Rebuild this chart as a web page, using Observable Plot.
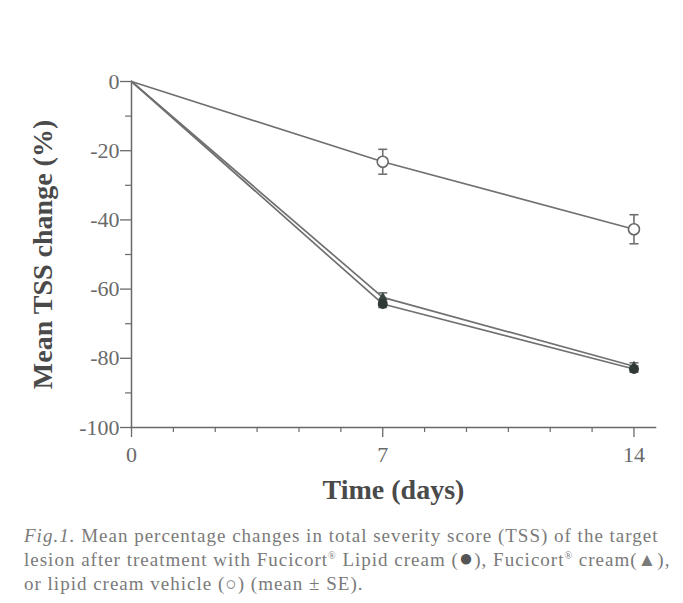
<!DOCTYPE html>
<html><head><meta charset="utf-8">
<script src="https://cdn.jsdelivr.net/npm/d3@7"></script>
<script src="https://cdn.jsdelivr.net/npm/@observablehq/plot@0.6"></script>
<style>
body{margin:0;background:#fff;}
svg{display:block;}
#cap{font-family:"Liberation Serif","Times New Roman",serif;font-size:19px;letter-spacing:1px;line-height:24px;color:#7a7a7a;margin-left:24px;margin-top:9px;white-space:nowrap;}
#cap sup{font-size:10px;vertical-align:7px;line-height:0;}
#cap .sym{font-size:24px;line-height:0;color:#555;}
</style></head><body>
<div id="chart"></div>
<div id="cap">
<div><i>Fig.1.</i> Mean percentage changes in total severity score (TSS) of the target</div>
<div>lesion after treatment with Fucicort<sup>®</sup> Lipid cream (<span class="sym">●</span>), Fucicort<sup>®</sup> cream(▲),</div>
<div>or lipid cream vehicle (○) (mean ± SE).</div>
</div>
<script>
const days = [0, 7, 14];
const lipidMean = [0, -64.3, -83.1];
const lipidSE = [0, 1.0, 0.9];
const creamMean = [0, -62.4, -82.3];
const creamSE = [0, 1.3, 1.0];
const vehicleMean = [0, -23.2, -42.7];
const vehicleSE = [0, 3.6, 4.2];
const yMajorTicks = [0, -20, -40, -60, -80, -100];
const yMinorTicks = [-10, -30, -50, -70, -90];
const xMajorTicks = [0, 7, 14];
const xMinorTicks = [7/6, 14/6, 21/6, 28/6, 35/6, 49/6, 56/6, 63/6, 70/6, 77/6];

const seriesDefs = [
  {name: "vehicle", mean: vehicleMean, se: vehicleSE},
  {name: "cream", mean: creamMean, se: creamSE},
  {name: "lipid", mean: lipidMean, se: lipidSE}
];
const rows = seriesDefs.flatMap(s => days.map((d, i) => ({
  series: s.name, day: d, mean: s.mean[i], lo: s.mean[i] - s.se[i], hi: s.mean[i] + s.se[i], se: s.se[i]
})));
const marked = rows.filter(r => r.day > 0);

const hline = {draw(ctx, size){ const r = Math.sqrt(size / Math.PI); ctx.moveTo(-r, 0); ctx.lineTo(r, 0); }};

const axisColor = "#6a6a6a";
const lineColor = "#707070";

const chart = Plot.plot({
  width: 683, height: 515,
  marginLeft: 131, marginRight: 28, marginTop: 81, marginBottom: 88,
  style: {fontFamily: "Liberation Serif, Times New Roman, serif", background: "#fff"},
  x: {domain: [0, 14.6]},
  y: {domain: [-100, 0]},
  marks: [
    Plot.axisY(yMajorTicks, {tickSize: 11, tickPadding: 1, fontSize: 22, color: axisColor, tickFormat: d => String(d), label: null, strokeWidth: 1.3}),
    Plot.axisY(yMinorTicks, {tickSize: 6, tickFormat: () => "", color: axisColor, label: null, strokeWidth: 1.2}),
    Plot.axisX(xMajorTicks, {tickSize: 10, tickPadding: 9, fontSize: 22, color: axisColor, label: null, strokeWidth: 1.3}),
    Plot.axisX(xMinorTicks, {tickSize: 5, tickFormat: () => "", color: axisColor, label: null, strokeWidth: 1.2}),
    Plot.frame({anchor: "left", stroke: axisColor, strokeWidth: 1.5}),
    Plot.frame({anchor: "bottom", stroke: axisColor, strokeWidth: 1.5}),
    Plot.line(rows, {x: "day", y: "mean", z: "series", stroke: lineColor, strokeWidth: 1.7}),
    Plot.ruleX(marked, {x: "day", y1: "lo", y2: "hi", stroke: lineColor, strokeWidth: 1.6}),
    Plot.dot(marked, {x: "day", y: "lo", symbol: hline, r: 4.5, fill: "none", stroke: lineColor, strokeWidth: 1.6}),
    Plot.dot(marked, {x: "day", y: "hi", symbol: hline, r: 4.5, fill: "none", stroke: lineColor, strokeWidth: 1.6}),
    Plot.dot(marked.filter(r => r.series === "cream"), {x: "day", y: "mean", symbol: "triangle", r: 3.5, fill: "#3a4440"}),
    Plot.dot(marked.filter(r => r.series === "lipid"), {x: "day", y: "mean", symbol: "circle", r: 5, fill: "#2f3a36"}),
    Plot.dot(marked.filter(r => r.series === "vehicle"), {x: "day", y: "mean", symbol: "circle", r: 5.5, fill: "#fff", stroke: "#666", strokeWidth: 1.6}),
    Plot.text(["Mean TSS change (%)"], {text: d => d, frameAnchor: "left", rotate: -90, dx: -88, fontSize: 28, fontWeight: "bold", fill: "#4a4a4a", textAnchor: "middle"}),
    Plot.text(["Time (days)"], {text: d => d, frameAnchor: "bottom", dy: 71, fontSize: 28, fontWeight: "bold", fill: "#4a4a4a"})
  ]
});
document.getElementById("chart").appendChild(chart);
</script>
</body></html>
